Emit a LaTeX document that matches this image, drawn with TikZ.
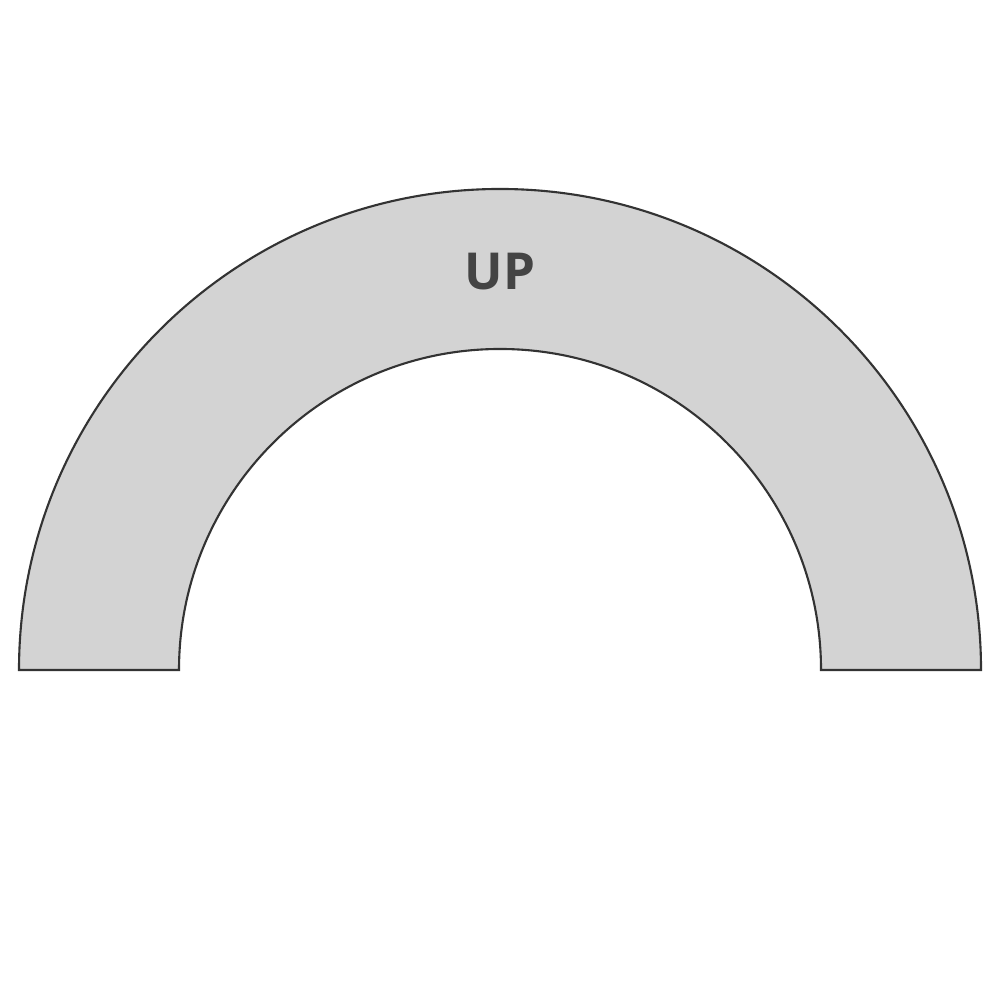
\documentclass[tikz,border=0pt]{standalone}
\usepackage{fontspec}
\setmainfont{Open Sans}
\definecolor{archfill}{HTML}{D3D3D3}
\definecolor{archline}{HTML}{333333}
\definecolor{labelgray}{HTML}{444444}

\begin{document}
\begin{tikzpicture}[x=1cm, y=1cm]
\useasboundingbox (0,0) rectangle (10,10);
\draw[archline, fill=archfill, line width=0.6pt] (0.19,3.30) arc[start angle=180, end angle=0, radius=4.81] -- (8.21,3.30) arc[start angle=0, end angle=180, radius=3.21] -- cycle;
\node[labelgray, font=\fontsize{14.5}{17}\selectfont\bfseries, inner sep=0pt] (uplabel) at (5,7.28) {UP};
\end{tikzpicture}
\end{document}
